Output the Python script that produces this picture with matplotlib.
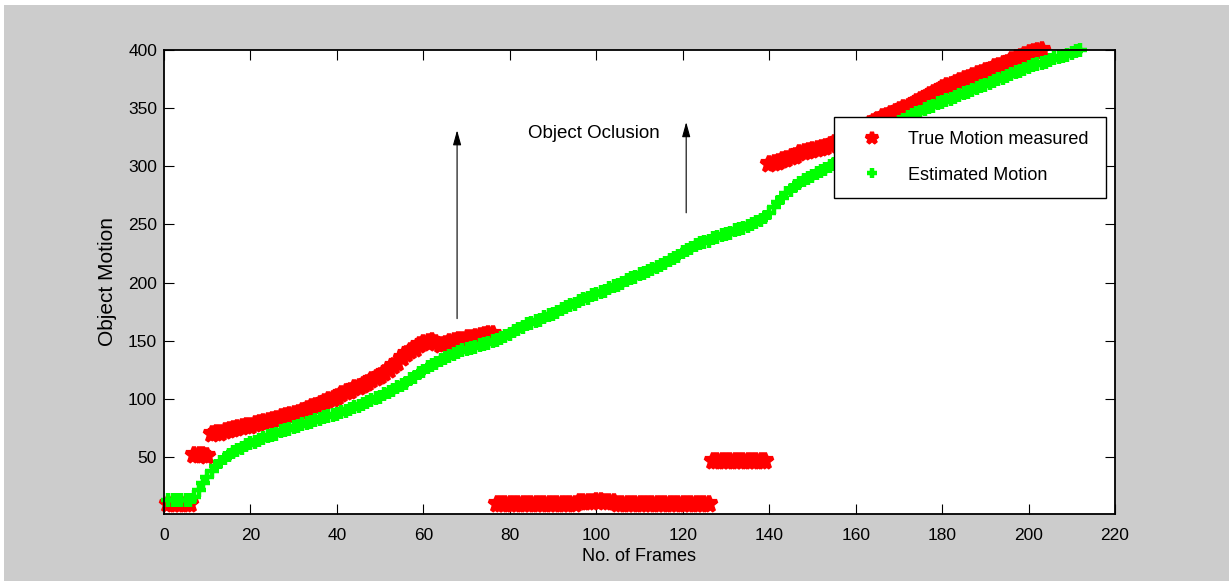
import matplotlib
matplotlib.use("Agg")
import matplotlib.pyplot as plt
import numpy as np
from matplotlib.patches import Rectangle

plt.rcParams.update({"font.family": ["Liberation Sans", "DejaVu Sans"]})

# true (measured) motion, one value per frame starting at frame 1
true_motion = [
    10, 10, 10, 10, 10, 10, 52, 52, 52, 51,
    70, 71, 71, 72, 73, 74, 75, 76, 77, 77,
    78, 79, 80, 81, 82, 83, 84, 85, 86, 87,
    88, 90, 91, 93, 94, 96, 97, 99, 100, 102,
    104, 106, 107, 109, 110, 112, 114, 116, 118, 120,
    122, 125, 128, 131, 135, 139, 141, 143, 146, 148,
    149, 150, 148, 146, 147, 149, 150, 151, 151, 152,
    152, 153, 154, 155, 156, 156, 10, 10, 10, 10,
    10, 10, 10, 10, 10, 10, 10, 10, 10, 10,
    10, 10, 10, 10, 10, 11, 11, 11, 11, 12,
    12, 11, 11, 11, 10, 10, 10, 10, 10, 10,
    10, 10, 10, 10, 10, 10, 10, 10, 10, 10,
    10, 10, 10, 10, 10, 10, 47, 47, 47, 47,
    47, 47, 47, 47, 47, 47, 47, 47, 47, 302,
    303, 304, 305, 306, 308, 309, 311, 312, 313, 314,
    315, 316, 317, 318, 320, 322, 324, 326, 328, 330,
    332, 334, 336, 338, 340, 342, 343, 345, 347, 348,
    350, 351, 353, 355, 357, 359, 361, 363, 365, 367,
    369, 370, 372, 373, 375, 376, 378, 379, 380, 382,
    383, 385, 386, 388, 389, 391, 393, 394, 396, 397,
    398, 399, 400,
]

# estimated motion, one value per frame starting at frame 1
est_motion = [
    13, 13, 13, 13, 13, 13, 16, 22, 28, 33,
    38, 42, 46, 49, 52, 54, 56, 58, 60, 62,
    63, 65, 66, 68, 69, 70, 72, 73, 74, 76,
    77, 78, 79, 80, 82, 83, 84, 85, 86, 87,
    89, 90, 91, 93, 94, 96, 97, 99, 101, 102,
    104, 106, 108, 110, 112, 114, 117, 119, 122, 124,
    127, 129, 131, 133, 135, 137, 139, 140, 142, 143,
    144, 145, 146, 147, 148, 150, 151, 152, 154, 156,
    158, 160, 162, 164, 165, 167, 168, 170, 172, 173,
    175, 177, 179, 181, 182, 184, 186, 187, 189, 190,
    192, 193, 195, 197, 198, 200, 202, 204, 205, 207,
    208, 210, 212, 213, 215, 217, 219, 221, 223, 226,
    228, 230, 232, 234, 235, 236, 238, 239, 241, 242,
    243, 245, 246, 247, 249, 250, 252, 254, 256, 260,
    265, 269, 273, 277, 280, 283, 286, 288, 290, 292,
    294, 296, 298, 300, 302, 305, 307, 310, 312, 315,
    318, 320, 323, 325, 328, 330, 332, 334, 336, 338,
    340, 342, 344, 346, 347, 349, 351, 352, 354, 355,
    357, 358, 360, 361, 363, 364, 366, 367, 369, 370,
    372, 373, 375, 376, 378, 379, 381, 382, 384, 385,
    387, 388, 389, 390, 391, 393, 394, 395, 396, 397,
    399, 400,
]

frames_true = np.arange(1, len(true_motion) + 1)
frames_est = np.arange(1, len(est_motion) + 1)

xticks = np.arange(0, 221, 20)
yticks = np.arange(50, 401, 50)

fig = plt.figure(figsize=(12.29, 5.81), dpi=100, facecolor="white")
fig.patches.append(Rectangle((4 / 1229, 0), 1, 1 - 5 / 581, transform=fig.transFigure,
                             facecolor="#cccccc", edgecolor="none", zorder=-10))
ax = fig.add_axes([164 / 1229, 1 - 514 / 581, 951 / 1229, 464 / 581])
ax.set_facecolor("white")

ax.plot(frames_true, true_motion, linestyle="none", marker="*", color="#ff0000",
        markersize=12, markeredgewidth=3, clip_on=False, label="True Motion measured")
ax.plot(frames_est, est_motion, linestyle="none", marker="+", color="#00ff00",
        markersize=10, markeredgewidth=3.2, clip_on=False, label="Estimated Motion")

ax.set_xlim(0, 220)
ax.set_ylim(1, 400)
ax.set_xticks(xticks)
ax.set_yticks(yticks)
ax.tick_params(direction="in", length=7, width=0.8, top=True, right=True,
               labelsize=12.5, colors="black")
ax.tick_params(axis="x", pad=10)
ax.tick_params(axis="y", pad=5)
for s in ax.spines.values():
    s.set_linewidth(1.3)

ax.set_xlabel("No. of Frames", fontsize=13, labelpad=4)
ax.set_ylabel("Object Motion", fontsize=15, labelpad=8)

arrow = dict(arrowstyle="-|>,head_length=0.9,head_width=0.25", color="black", lw=0.8,
             shrinkA=0, shrinkB=0)
ax.annotate("", xy=(67.8, 331), xytext=(67.8, 169), arrowprops=arrow)
ax.annotate("", xy=(120.8, 338), xytext=(120.8, 260), arrowprops=arrow)
ax.text(84.2, 328, "Object Oclusion", fontsize=13.5, va="center", ha="left")

leg = ax.legend(loc="upper left", bbox_to_anchor=(0.7045, 0.6832, 0.286, 0.1724),
                mode="expand", borderaxespad=0, fontsize=13, frameon=True,
                fancybox=False, framealpha=1, edgecolor="black", numpoints=1,
                handlelength=2.6, handletextpad=0.7, borderpad=0.8,
                labelspacing=1.0, markerscale=0.75)
leg.get_frame().set_linewidth(1.0)

fig.savefig("out.png", dpi=100, facecolor=fig.get_facecolor())
